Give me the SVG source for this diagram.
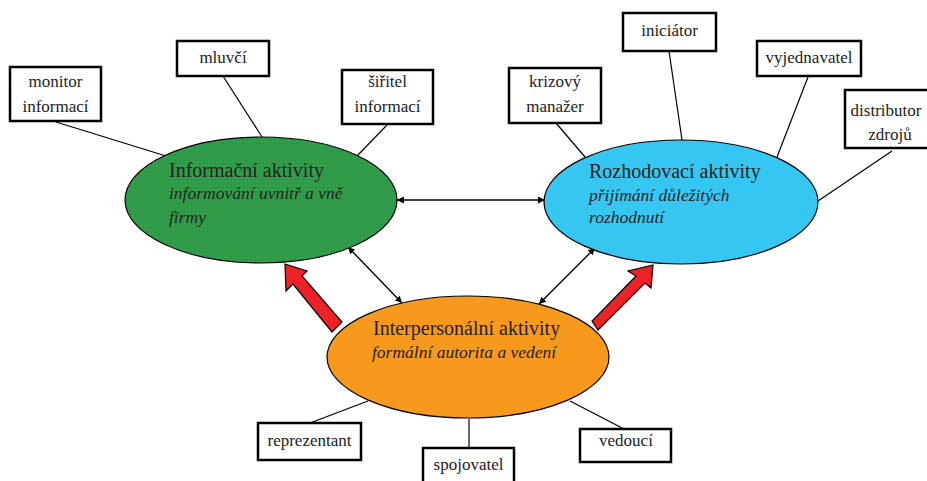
<svg xmlns="http://www.w3.org/2000/svg" width="927" height="481" viewBox="0 0 927 481">
<style>
text{font-family:'Liberation Serif',serif}
.box{fill:#fff;stroke:#000;stroke-width:2.5}
.lbl{font-size:17px;fill:#222;text-anchor:middle}
.title{font-size:20px;fill:#222}
.sub{font-size:17.5px;font-style:italic;fill:#222}
.ell{stroke:#000;stroke-width:1.2}
.line{stroke:#000;stroke-width:1.2;fill:none}
.dbl{stroke:#000;stroke-width:1.4;fill:none;marker-start:url(#ah);marker-end:url(#ah)}
.red{fill:#ee2226;stroke:#000;stroke-width:1.2;stroke-linejoin:miter}
</style>
<defs>
<marker id="ah" viewBox="0 0 10 10" refX="10" refY="5" markerWidth="7" markerHeight="7" orient="auto-start-reverse" markerUnits="userSpaceOnUse">
<path d="M0,0 L10,5 L0,10 z" fill="#000"/>
</marker>
<pattern id="dots" width="4" height="4" patternUnits="userSpaceOnUse">
<rect width="4" height="4" fill="#2e9a48"/>
<rect x="1" y="1" width="1" height="1" fill="#4fb066"/>
</pattern>
</defs>
<g id="connectors">
<line class="line" x1="56" y1="122" x2="166" y2="156"/>
<line class="line" x1="223" y1="76" x2="262" y2="137"/>
<line class="line" x1="387" y1="125" x2="357" y2="156"/>
<line class="line" x1="556" y1="123" x2="585" y2="157"/>
<line class="line" x1="669" y1="51" x2="682" y2="140"/>
<line class="line" x1="808" y1="77" x2="777" y2="157"/>
<line class="line" x1="892" y1="151" x2="818" y2="201"/>
<line class="line" x1="310" y1="423" x2="368" y2="401"/>
<line class="line" x1="469" y1="419" x2="469" y2="448"/>
<line class="line" x1="624" y1="429" x2="570" y2="401"/>
<line class="dbl" x1="397" y1="200" x2="545" y2="200"/>
<line class="dbl" x1="348" y1="247" x2="402" y2="303"/>
<line class="dbl" x1="595" y1="248" x2="539" y2="304"/>
<polygon class="red" points="285,264 307,271 302,276 342,322 332,332 293,284 286,291"/>
<polygon class="red" points="653,265 651,288 645,283 598,330 592,321 636,276 628,271"/>
</g>
<g id="informacni">
<ellipse class="ell" cx="261" cy="200" rx="136" ry="63" fill="url(#dots)"/>
<text class="title" x="169" y="177" font-family="Liberation Serif">Informační aktivity</text>
<text class="sub" x="169" y="199" font-family="Liberation Serif">informování uvnitř a vně</text>
<text class="sub" x="169" y="223" font-family="Liberation Serif">firmy</text>
</g>
<g id="rozhodovaci">
<ellipse class="ell" cx="681" cy="202" rx="137" ry="62" fill="#36c6f2"/>
<text class="title" x="589" y="178">Rozhodovací aktivity</text>
<text class="sub" x="589" y="201">přijímání důležitých</text>
<text class="sub" x="589" y="223">rozhodnutí</text>
</g>
<g id="interpersonalni">
<ellipse class="ell" cx="468" cy="357" rx="141" ry="61" fill="#f7991d"/>
<text class="title" x="373" y="335">Interpersonální aktivity</text>
<text class="sub" x="372" y="358">formální autorita a vedení</text>
</g>
<g id="monitor"><rect class="box" x="10" y="67" width="91" height="54"/><text class="lbl" x="55.5" y="87">monitor</text><text class="lbl" x="55.5" y="112">informací</text></g>
<g id="mluvci"><rect class="box" x="177" y="41" width="92" height="35"/><text class="lbl" x="223" y="63">mluvčí</text></g>
<g id="siritel"><rect class="box" x="342" y="70" width="91" height="54"/><text class="lbl" x="387.5" y="87">šiřitel</text><text class="lbl" x="387.5" y="112">informací</text></g>
<g id="krizovy"><rect class="box" x="509" y="68" width="92" height="55"/><text class="lbl" x="555" y="87">krizový</text><text class="lbl" x="555" y="112">manažer</text></g>
<g id="iniciator"><rect class="box" x="623" y="13" width="93" height="38"/><text class="lbl" x="669.5" y="36">iniciátor</text></g>
<g id="vyjednavatel"><rect class="box" x="757" y="41" width="104" height="35"/><text class="lbl" x="809" y="63">vyjednavatel</text></g>
<g id="distributor"><rect class="box" x="845" y="90" width="95" height="58"/><text class="lbl" x="886" y="116">distributor</text><text class="lbl" x="890" y="140">zdrojů</text></g>
<g id="reprezentant"><rect class="box" x="258" y="423" width="103" height="37"/><text class="lbl" x="309.5" y="446">reprezentant</text></g>
<g id="spojovatel"><rect class="box" x="423" y="448" width="91" height="40"/><text class="lbl" x="468.5" y="470">spojovatel</text></g>
<g id="vedouci"><rect class="box" x="580" y="429" width="91" height="33"/><text class="lbl" x="626" y="446">vedoucí</text></g>
</svg>
